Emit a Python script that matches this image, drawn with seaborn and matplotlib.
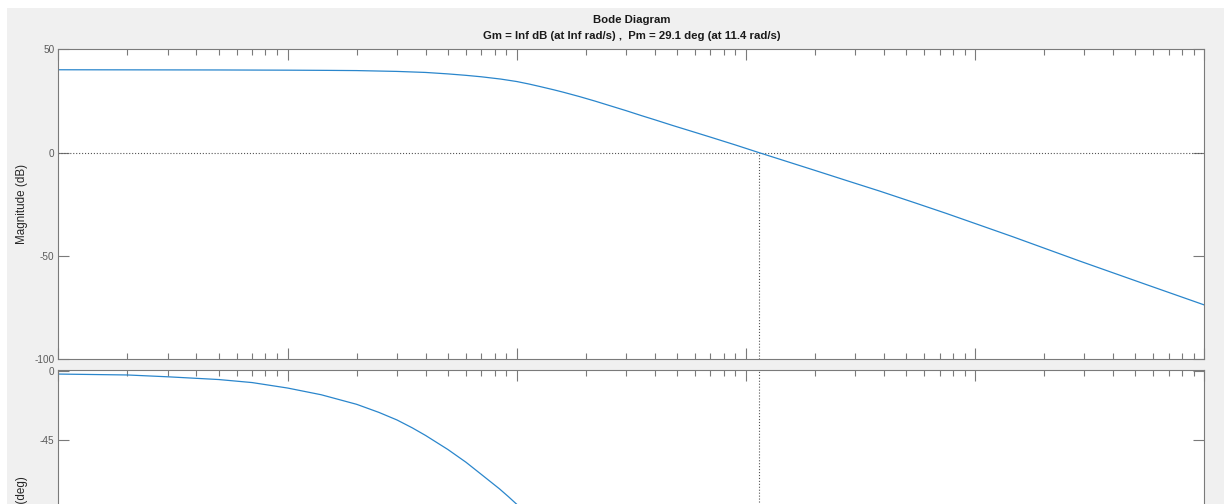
import numpy as np
import pandas as pd
import matplotlib
matplotlib.use('Agg')
import matplotlib.pyplot as plt
import matplotlib.ticker as mticker
from matplotlib.patches import Rectangle
import seaborn as sns

mag_freq = [0.01, 0.05, 0.1, 0.15, 0.2, 0.3, 0.4, 0.5, 0.6, 0.7, 0.85, 1.0, 1.13, 1.26,
            1.45, 1.6, 1.88, 2.2, 2.5, 3.0, 3.5, 4.0, 4.8, 5.8, 7.0, 9.0, 11.4, 15, 20,
            28, 38.3, 55, 74.8, 100, 146, 285, 557, 1000]
mag_db = [40.1, 40.0, 39.9, 39.8, 39.7, 39.3, 38.8, 38.1, 37.4, 36.7, 35.6, 34.4, 33.2, 32.0,
          30.4, 29.2, 27.1, 24.9, 23.0, 20.3, 17.9, 15.9, 13.1, 10.3, 7.5, 3.7, 0.0, -4.2, -8.6,
          -13.8, -18.6, -24.4, -29.4, -34.3, -40.7, -52.4, -63.8, -73.7]

ph_freq = [0.01, 0.02, 0.03, 0.05, 0.07, 0.1, 0.14, 0.2, 0.25, 0.3, 0.35, 0.4, 0.5, 0.6,
           0.7, 0.84, 0.92, 1.0, 1.1]
ph_deg = [-1.8, -2.4, -3.6, -5.4, -7.4, -11.0, -15.4, -21.7, -27.0, -32.0, -37.2, -42.2,
          -51.4, -59.8, -67.8, -77.3, -82.5, -87.5, -93.2]

mag_ticks = [-100, -50, 0, 50]
ph_ticks = [-180, -135, -90, -45, 0]
wc = 11.4      # frequência de cruzamento
pm = 29.1      # margem de fase
titulo = 'Bode Diagram'
subtitulo = 'Gm = Inf dB (at Inf rad/s) ,  Pm = 29.1 deg (at 11.4 rad/s)'

df_mag = pd.DataFrame({'w': mag_freq, 'mag': mag_db})
df_ph = pd.DataFrame({'w': ph_freq, 'fase': ph_deg})

sns.set_style('ticks')
plt.rcParams['font.family'] = ['Liberation Sans', 'DejaVu Sans']

W, H = 1224, 504
fig = plt.figure(figsize=(W / 100, H / 100), dpi=100, facecolor='white')
fig.patches.append(Rectangle((7 / W, 0), 1, 1 - 8 / H, transform=fig.transFigure,
                             facecolor='#f0f0f0', edgecolor='none', zorder=-10))

left, right = 58.5, 1204.3
ax_mag = fig.add_axes([left / W, 1 - 359.3 / H, (right - left) / W, 310 / H])
ax_ph = fig.add_axes([left / W, 1 - 369.5 / H - 310 / H, (right - left) / W, 310 / H])

linha = '#2a86cc'
cinza = '#7a7a7a'

sns.lineplot(data=df_mag, x='w', y='mag', ax=ax_mag, color=linha, lw=0.9)
sns.lineplot(data=df_ph, x='w', y='fase', ax=ax_ph, color=linha, lw=0.9)

# linhas pontilhadas das margens
ax_mag.axhline(0, ls=':', color='#555555', lw=0.8, zorder=1)
ax_mag.vlines(wc, mag_ticks[0], 0, ls=':', color='#555555', lw=0.8, zorder=1)
ax_ph.axhline(-180, ls=':', color='#555555', lw=0.8, zorder=1)
ax_ph.vlines(wc, -180 + pm, 10, ls=':', color='#555555', lw=0.8, zorder=1)

ax_mag.set_ylim(-100, 50)
ax_ph.set_ylim(-202.7, 1.2)

for ax, yt in [(ax_mag, mag_ticks), (ax_ph, ph_ticks)]:
    ax.set_facecolor('white')
    ax.set_xscale('log')
    ax.set_xlim(0.01, 1000)
    ax.set_yticks(yt)
    ax.set_yticklabels([str(v) for v in yt])
    ax.xaxis.set_major_locator(mticker.LogLocator(base=10, numticks=20))
    ax.xaxis.set_minor_locator(mticker.LogLocator(base=10, subs=np.arange(2, 10), numticks=100))
    ax.xaxis.set_minor_formatter(mticker.NullFormatter())
    ax.set_xlabel('')
    ax.set_ylabel('')
    for s in ax.spines.values():
        s.set_visible(True)
        s.set_color(cinza)
        s.set_linewidth(0.8)
    ax.tick_params(axis='both', which='both', direction='in', top=True, right=True,
                   color=cinza, labelcolor='#5a5a5a', labelsize=7.2, pad=3)
    ax.tick_params(axis='x', which='major', length=8, width=0.8)
    ax.tick_params(axis='x', which='minor', length=4, width=0.8)
    ax.tick_params(axis='y', which='major', length=8, width=0.8)
    # os rótulos de frequência ficam fora do recorte
    ax.tick_params(axis='x', which='both', labelbottom=False)

fig.text(631.4 / W, 1 - 20 / H, titulo, ha='center', va='center',
         fontsize=8.2, fontweight='bold', color='#1a1a1a')
fig.text(631.4 / W, 1 - 36 / H, subtitulo, ha='center', va='center',
         fontsize=8.2, fontweight='bold', color='#1a1a1a')
fig.text(22 / W, 1 - 204.3 / H, 'Magnitude (dB)', rotation=90, ha='center', va='center',
         fontsize=8.4, color='#262626')
fig.text(22 / W, 1 - 476 / H, 'Phase (deg)', rotation=90, ha='center', va='top',
         fontsize=8.4, color='#262626')

fig.savefig('out.png', dpi=100, facecolor='white')
